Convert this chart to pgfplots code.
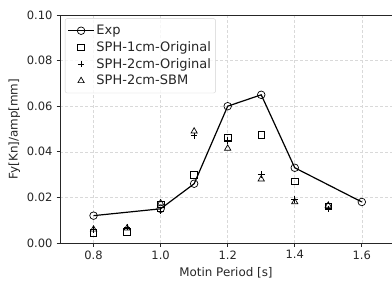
\documentclass[border=0pt]{standalone}
\usepackage{pgfplots}
\pgfplotsset{compat=1.18}
\usepackage{fontspec}
\setmainfont{DejaVu Sans}
\newcommand\fs{\fontsize{11.5pt}{13.8pt}\selectfont}
\newcommand\fl{\fontsize{11.9pt}{14pt}\selectfont}
\newcommand\fg{\fontsize{13pt}{15.4pt}\selectfont}
\begin{document}
\fs
\begin{tikzpicture}
\begin{axis}[
  name=ax,
  scale only axis,
  width=332pt, height=228pt,
  xmin=0.7, xmax=1.69, ymin=0, ymax=0.1,
  xtick={0.8,1.0,1.2,1.4,1.6},
  ytick={0,0.02,0.04,0.06,0.08,0.1},
  xticklabels={0.8,1.0,1.2,1.4,1.6},
  yticklabels={0.00,0.02,0.04,0.06,0.08,0.10},
  tick align=outside, tick pos=left,
  major tick length=3.5pt,
  every tick/.style={black!85, line width=0.8pt},
  axis line style={black!85, line width=0.9pt},
  grid=major,
  grid style={dash pattern=on 3pt off 2pt, gray!30, line width=0.6pt},
  xlabel={Motin Period [s]},
  ylabel={Fy[Kn]/amp[mm]},
  xlabel style={yshift=0pt},
  ylabel style={yshift=-1pt},
  tick label style={font=\fs, text=black!85},
  label style={font=\fl, text=black!85},
  /pgf/number format/assume math mode=true,
  legend style={at={(0.015,0.985)}, anchor=north west, draw=gray!35, rounded corners=2pt,
    fill=white, fill opacity=0.8, text opacity=1, font=\fg,
    row sep=1.2pt, inner xsep=2.5pt, inner ysep=4.5pt, text=black!85},
  legend cell align=left,
  legend image code/.code={\draw[mark repeat=2,mark phase=2] plot coordinates {(0cm,0cm)(0.45cm,0cm)(0.9cm,0cm)};},
  only mark legend/.style={legend image code/.code={\draw[/tikz/only marks,mark repeat=2,mark phase=2] plot coordinates {(0cm,0cm)(0.45cm,0cm)(0.9cm,0cm)};}},
]
\addplot[black, line width=1.2pt, mark=o, mark size=3.8pt, mark options={line width=0.7pt, fill=none}]
 coordinates {(0.8,0.012)(1.0,0.015)(1.1,0.026)(1.2,0.060)(1.3,0.065)(1.4,0.033)(1.6,0.018)};
\addlegendentry{Exp}
\addplot[only marks, black, mark=square, mark size=3.3pt, mark options={line width=0.7pt}]
 coordinates {(0.8,0.0045)(0.9,0.005)(1.0,0.017)(1.1,0.030)(1.2,0.046)(1.3,0.0475)(1.4,0.027)(1.5,0.016)};
\addlegendentry{SPH-1cm-Original}
\addplot[only marks, black, mark=+, mark size=3.3pt, mark options={line width=0.9pt}]
 coordinates {(0.8,0.006)(0.9,0.007)(1.0,0.014)(1.1,0.047)(1.2,0.045)(1.3,0.030)(1.4,0.019)(1.5,0.015)};
\addlegendentry{SPH-2cm-Original}
\addplot[only marks, black, mark=triangle, mark size=3.6pt, mark options={line width=0.7pt}]
 coordinates {(0.8,0.006)(0.9,0.0065)(1.0,0.0175)(1.1,0.049)(1.2,0.0415)(1.3,0.028)(1.4,0.018)(1.5,0.0165)};
\addlegendentry{SPH-2cm-SBM}
\end{axis}
\pgfresetboundingbox
\path ([shift={(-60pt,-39pt)}]ax.south west) rectangle ([shift={(0pt,15pt)}]ax.north east);
\end{tikzpicture}
\end{document}
